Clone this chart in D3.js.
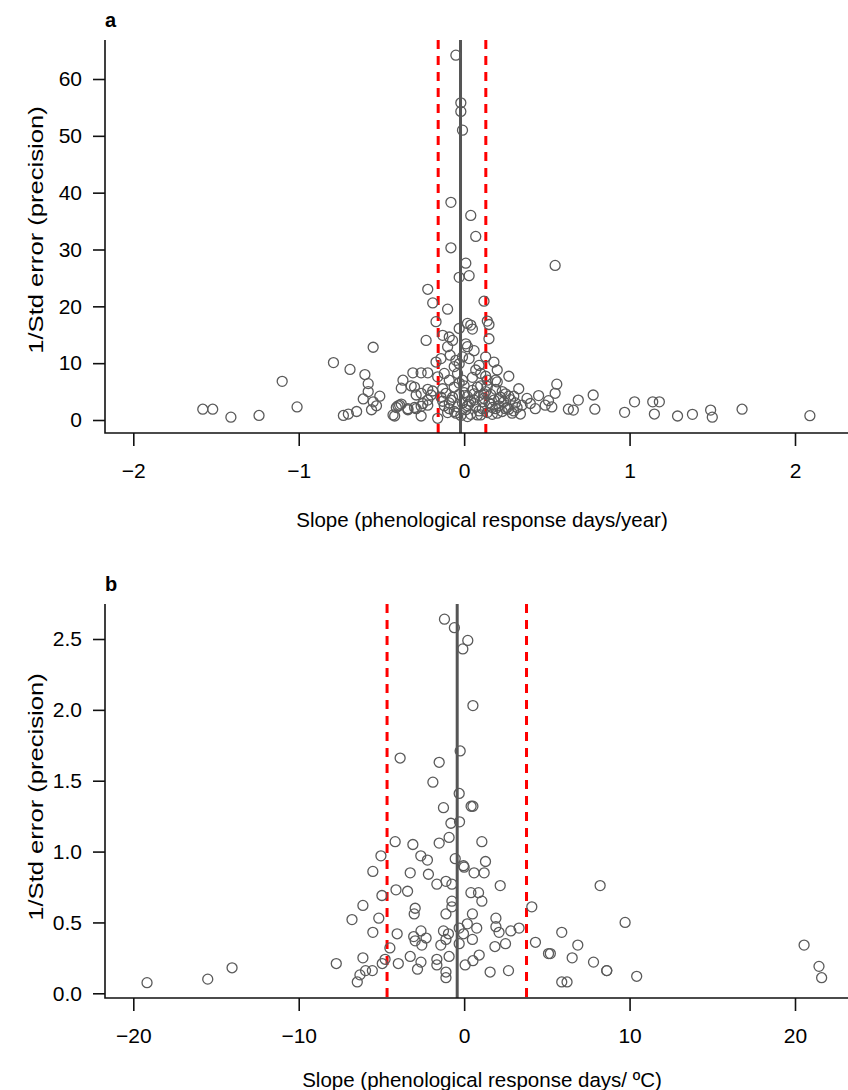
<!DOCTYPE html>
<html>
<head>
<meta charset="utf-8">
<script src="https://cdn.jsdelivr.net/npm/d3@7"></script>
<style>
  body { margin: 0; background: #fff; }
  svg { display: block; font-family: "Liberation Sans", Arial, sans-serif; }
  .pt { fill: none; stroke: #5a5a5a; stroke-width: 1.3; }
  .frame { stroke: #111; stroke-width: 1.6; fill: none; }
  .mean { stroke: #555; stroke-width: 3; }
  .ci { stroke: #ff0000; stroke-width: 3; stroke-dasharray: 9 7; }
</style>
</head>
<body>
<div id="chart"></div>
<script>
// panel a: slope (days/year) vs 1/SE
var pointsA = [
  [-0.05, 64.2], [-0.02, 55.8], [-0.02, 54.3], [-0.01, 51.0], [-0.08, 38.3], [0.04, 36.0],
  [0.07, 32.3], [-0.08, 30.3], [0.01, 27.6], [0.03, 25.4], [-0.03, 25.1], [0.55, 27.2],
  [-0.22, 23.0], [-0.19, 20.6], [-0.10, 19.5], [0.12, 20.9], [-0.17, 17.3], [0.14, 17.4],
  [0.15, 16.8], [0.02, 17.0], [0.04, 16.7], [0.05, 16.0], [-0.03, 16.1], [-0.23, 14.0],
  [-0.13, 14.9], [-0.09, 14.6], [-0.07, 14.0], [0.15, 14.3], [0.01, 13.4], [0.02, 12.9],
  [-0.10, 12.9], [-0.55, 12.8], [-0.085, 11.4], [-0.14, 10.8], [0.13, 11.1], [-0.01, 11.1],
  [0.18, 10.2], [-0.17, 10.2], [-0.03, 9.9], [-0.06, 9.4], [0.09, 9.6], [0.20, 8.8],
  [0.27, 7.7], [0.07, 8.8], [0.13, 7.7], [-0.04, 8.2], [-0.12, 8.2], [-0.16, 7.6],
  [-0.09, 7.0], [-0.01, 7.0], [0.19, 7.0], [0.14, 7.0], [0.20, 6.7],
  [-1.58, 1.9], [-1.52, 1.9], [-1.41, 0.5], [-1.24, 0.8], [-1.10, 6.8], [-1.01, 2.3],
  [-0.79, 10.1], [-0.69, 8.9], [-0.60, 8.0], [-0.73, 0.8], [-0.70, 1.05], [-0.65, 1.5],
  [-0.61, 3.7], [-0.58, 6.4], [-0.58, 5.0], [-0.55, 3.2], [-0.51, 4.2], [-0.56, 1.8],
  [-0.53, 2.5], [-0.42, 0.7], [-0.41, 2.2], [-0.39, 2.6], [-0.37, 7.0], [-0.38, 5.6],
  [-0.34, 1.8], [-0.31, 8.3], [-0.26, 8.3], [-0.22, 8.3], [-0.32, 6.0], [-0.30, 5.8],
  [-0.26, 4.7], [-0.29, 4.4], [-0.26, 0.7], [-0.29, 2.0], [-0.25, 2.9], [-0.22, 3.5],
  [-0.19, 5.1], [-0.22, 5.4], [-0.20, 4.4], [-0.16, 0.3], [-0.30, 2.2], [-0.26, 2.4],
  [-0.22, 2.6], [-0.43, 0.9], [-0.34, 2.0], [-0.40, 2.5], [-0.38, 2.8],
  [-0.11, 4.7], [-0.08, 3.5], [-0.06, 5.8], [-0.09, 2.0], [-0.04, 2.3], [0.02, 4.1],
  [-0.06, 1.5], [-0.09, 3.0], [-0.12, 2.5], [-0.14, 4.0], [-0.13, 5.5], [-0.03, 4.5],
  [-0.01, 3.0], [0.00, 6.0], [0.01, 1.8], [0.03, 2.8], [0.05, 5.2], [0.06, 3.5],
  [0.04, 1.0], [0.08, 0.9], [0.07, 2.3], [0.09, 4.3], [0.10, 6.0], [0.11, 2.0],
  [0.12, 3.8], [0.13, 5.0], [0.14, 1.3], [0.15, 3.0], [0.16, 4.5], [0.17, 2.2],
  [0.18, 3.5], [0.19, 5.4], [0.21, 2.5], [0.22, 4.0], [0.23, 1.5], [0.24, 3.2],
  [0.25, 4.6], [0.26, 2.2], [0.28, 3.6], [0.29, 1.2], [0.31, 3.0], [0.33, 5.5],
  [0.34, 1.05], [0.35, 2.6], [0.30, 4.2], [-0.02, 0.8], [0.02, 0.6], [0.10, 0.9],
  [0.20, 1.2], [0.27, 1.9],
  [-0.05, 1.2], [-0.03, 6.5], [0.00, 4.8], [0.02, 2.5], [0.04, 3.3], [0.06, 4.6],
  [0.08, 5.8], [0.09, 1.6], [0.11, 3.2], [0.12, 4.6], [0.14, 5.9], [0.16, 2.8],
  [0.17, 1.0], [0.19, 2.0], [0.21, 3.7], [0.23, 5.0], [0.25, 2.0], [0.27, 4.2],
  [0.30, 1.6], [0.32, 2.2], [-0.07, 4.0], [-0.10, 1.3], [-0.13, 3.3], [0.05, 7.5],
  [0.10, 8.2], [-0.05, 10.5], [0.03, 10.8], [0.06, 12.2],
  [0.45, 4.3], [0.56, 6.3], [0.55, 4.7], [0.51, 3.4], [0.53, 2.3], [0.49, 2.6],
  [0.40, 2.9], [0.63, 1.9], [0.66, 1.75], [0.69, 3.5], [0.78, 4.4], [0.79, 1.9],
  [0.97, 1.35], [1.03, 3.2], [1.14, 3.2], [1.18, 3.2], [1.15, 1.05], [1.29, 0.7],
  [1.38, 1.0], [1.49, 1.75], [1.50, 0.5], [1.68, 1.9], [2.09, 0.76], [0.43, 2.0], [0.38, 3.8]
];
var meanA = -0.022;
var ciA = [-0.157, 0.131];
var xTicksA = [-2, -1, 0, 1, 2];
var yTicksA = [0, 10, 20, 30, 40, 50, 60];

// panel b: slope (days/degC) vs 1/SE
var pointsB = [
  [-1.19, 2.64], [-0.59, 2.58], [0.22, 2.49], [-0.08, 2.43], [0.53, 2.03], [-0.24, 1.71],
  [-3.87, 1.66], [-1.51, 1.63], [-1.89, 1.49], [-0.30, 1.41], [-1.25, 1.31], [0.42, 1.32],
  [0.53, 1.32], [-0.28, 1.21], [-0.80, 1.20], [-0.91, 1.10], [-1.51, 1.06], [-4.17, 1.07],
  [-3.10, 1.05], [1.07, 1.07], [-5.03, 0.97], [-2.62, 0.97], [-2.22, 0.94], [-0.54, 0.95],
  [-0.04, 0.90], [0.00, 0.89], [-5.52, 0.86], [-3.26, 0.85], [-2.16, 0.84], [0.60, 0.85],
  [1.21, 0.85], [1.29, 0.93], [-1.65, 0.77], [-1.10, 0.79], [-0.74, 0.77], [2.18, 0.76],
  [8.22, 0.76], [-4.97, 0.69], [-4.12, 0.73], [-3.42, 0.72], [0.41, 0.71], [0.87, 0.71],
  [-0.74, 0.65], [1.07, 0.65], [-6.12, 0.62], [-2.96, 0.60], [-3.02, 0.56], [-0.74, 0.61],
  [-1.10, 0.56], [0.50, 0.56], [4.09, 0.61], [-6.78, 0.52], [-5.16, 0.53], [1.92, 0.53],
  [1.92, 0.47], [-5.52, 0.43], [-4.05, 0.42], [-3.05, 0.40], [-2.61, 0.44], [-2.30, 0.39],
  [-2.96, 0.37], [-2.56, 0.34], [-1.25, 0.44], [-0.95, 0.42], [-1.10, 0.38], [-1.41, 0.34],
  [-0.30, 0.46], [0.19, 0.49], [0.76, 0.46], [-0.04, 0.42], [0.50, 0.38], [-0.30, 0.35],
  [2.11, 0.43], [2.82, 0.44], [3.32, 0.46], [1.86, 0.33], [2.50, 0.35], [4.31, 0.36],
  [5.10, 0.28], [5.90, 0.43], [6.87, 0.34], [6.53, 0.25], [7.82, 0.22], [5.90, 0.08],
  [6.22, 0.08], [-4.49, 0.32], [-6.12, 0.25], [-7.73, 0.21], [-4.78, 0.24], [-4.95, 0.21],
  [-5.55, 0.16], [-5.96, 0.16], [-6.30, 0.13], [-6.46, 0.08], [-3.98, 0.21], [-3.26, 0.26],
  [-2.61, 0.22], [-2.82, 0.17], [-1.65, 0.24], [-1.65, 0.20], [-0.91, 0.26], [-1.10, 0.15],
  [-1.10, 0.11], [0.06, 0.20], [0.53, 0.23], [0.91, 0.27], [1.57, 0.15], [2.68, 0.16],
  [9.73, 0.50], [5.21, 0.28], [8.62, 0.16], [8.62, 0.16], [10.43, 0.12], [20.55, 0.34],
  [21.45, 0.19], [21.61, 0.11], [-19.17, 0.075], [-15.5, 0.10], [-14.03, 0.18]
];
var meanB = -0.42;
var ciB = [-4.66, 3.77];
var xTicksB = [-20, -10, 0, 10, 20];
var yTicksB = [0, 0.5, 1, 1.5, 2, 2.5];

var W = 848, H = 1090;

var svg = d3.select("#chart").append("svg")
  .attr("width", W)
  .attr("height", H);

function panel(opts) {
  var g = svg.append("g");

  var x = d3.scaleLinear().domain(opts.xDom).range([133.3, 795]);
  var y = d3.scaleLinear().domain(opts.yDom).range(opts.yRange);

  var left = 105, right = W, top = opts.top, bottom = opts.bottom;

  // reference lines
  g.append("line")
    .attr("class", "mean")
    .attr("x1", x(opts.mean)).attr("x2", x(opts.mean))
    .attr("y1", top).attr("y2", bottom);

  g.selectAll(".ci")
    .data(opts.ci)
  .enter().append("line")
    .attr("class", "ci")
    .attr("x1", d => x(d)).attr("x2", d => x(d))
    .attr("y1", top).attr("y2", bottom);

  g.selectAll(".pt")
    .data(opts.points)
  .enter().append("circle")
    .attr("class", "pt")
    .attr("cx", d => x(d[0]))
    .attr("cy", d => y(d[1]))
    .attr("r", 5);

  // L-shaped frame
  g.append("path")
    .attr("class", "frame")
    .attr("d", `M${left},${top}V${bottom}H${right}`);

  var xa = g.append("g")
    .attr("transform", `translate(0,${bottom})`)
    .call(d3.axisBottom(x).tickValues(opts.xTicks).tickSize(13).tickPadding(17)
      .tickFormat(opts.xFmt));

  var ya = g.append("g")
    .attr("transform", `translate(${left},0)`)
    .call(d3.axisLeft(y).tickValues(opts.yTicks).tickSize(12).tickPadding(11)
      .tickFormat(opts.yFmt));

  [xa, ya].forEach(function(a) {
    a.select(".domain").remove();
    a.attr("font-family", null).attr("font-size", null);
    a.selectAll("line").attr("stroke", "#111").attr("stroke-width", 1.6);
    a.selectAll("text").attr("fill", "#000").style("font-size", "21px");
  });

  g.append("text")
    .attr("x", 105)
    .attr("y", opts.top - 13)
    .style("font-size", "20px")
    .style("font-weight", "bold")
    .text(opts.tag);

  g.append("text")
    .attr("x", 482)
    .attr("y", opts.xLabelY)
    .attr("text-anchor", "middle")
    .style("font-size", "20.5px")
    .attr("fill", "#000")
    .text(opts.xLabel);

  // rotated label, stretched along its reading direction like the source
  g.append("text")
    .attr("transform", `translate(43,${opts.yLabelY}) rotate(-90) scale(1.22,1)`)
    .attr("text-anchor", "middle")
    .style("font-size", "21px")
    .attr("fill", "#000")
    .text("1/Std error (precision)");
}

panel({
  tag: "a",
  points: pointsA,
  mean: meanA,
  ci: ciA,
  xDom: [-2, 2],
  yDom: [0, 60],
  yRange: [420, 79],
  top: 40,
  bottom: 433,
  xTicks: xTicksA,
  yTicks: yTicksA,
  xFmt: d3.format("d"),
  yFmt: d3.format("d"),
  xLabel: "Slope (phenological response days/year)",
  xLabelY: 527,
  yLabelY: 230
});

panel({
  tag: "b",
  points: pointsB,
  mean: meanB,
  ci: ciB,
  xDom: [-20, 20],
  yDom: [0, 2.5],
  yRange: [993.3, 639],
  top: 604,
  bottom: 998,
  xTicks: xTicksB,
  yTicks: yTicksB,
  xFmt: d3.format("d"),
  yFmt: d3.format(".1f"),
  xLabel: "Slope (phenological response days/ \u00baC)",
  xLabelY: 1087,
  yLabelY: 797
});
</script>
</body>
</html>
